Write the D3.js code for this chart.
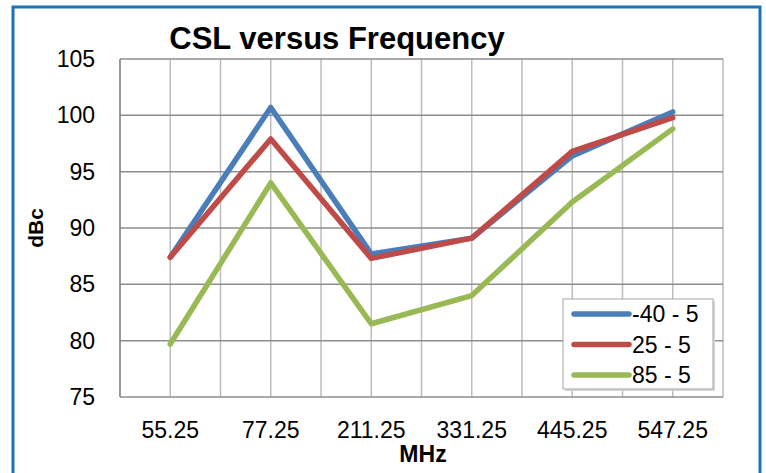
<!DOCTYPE html>
<html>
<head>
<meta charset="utf-8">
<script src="https://cdn.jsdelivr.net/npm/d3@7"></script>
<style>
  body { margin: 0; background: #fff; }
  text { font-family: "Liberation Sans", Arial, sans-serif; fill: #000; }
</style>
</head>
<body>
<div id="chart"></div>
<script>
var W = 766, H = 473

// data
var categories = ["55.25", "77.25", "211.25", "331.25", "445.25", "547.25"]
var seriesNames = ["-40 - 5", "25 - 5", "85 - 5"]
var seriesColors = ["#4a7ebb", "#be4b48", "#98b954"]
var valsMinus40 = [87.4, 100.7, 87.7, 89.1, 96.4, 100.3]
var vals25 = [87.4, 97.9, 87.3, 89.1, 96.8, 99.8]
var vals85 = [79.7, 94.0, 81.5, 84.0, 92.3, 98.8]
var yTicks = [75, 80, 85, 90, 95, 100, 105]

var series = [valsMinus40, vals25, vals85].map(function(v, i){
    return {name: seriesNames[i], color: seriesColors[i], values: v}
})

var plot = {left: 120, right: 723, top: 59, bottom: 397}

var svg = d3.select("#chart").append("svg").attr("width", W).attr("height", H)

// outer blue frame
svg.append("rect").attr("x", 13).attr("y", 7).attr("width", 747).attr("height", H + 10)
    .attr("fill", "#fff").attr("stroke", "#1a72bb").attr("stroke-width", 3)

var x = d3.scaleBand().domain(categories).range([plot.left, plot.right]).paddingInner(0).paddingOuter(0)
var y = d3.scaleLinear().domain([75, 105]).range([plot.bottom, plot.top])

/* vertical gridlines: at band edges and band centres */
var vLines = []
categories.forEach(function(c){
    vLines.push(x(c))
    vLines.push(x(c) + x.bandwidth() / 2)
})
vLines.push(plot.right)
svg.append("g").selectAll("line").data(vLines).enter().append("line")
    .attr("x1", function(d){ return d }).attr("x2", function(d){ return d })
    .attr("y1", plot.top).attr("y2", plot.bottom)
    .attr("stroke", "#bdbdbd").attr("stroke-width", 1.5)

// horizontal gridlines
svg.append("g").selectAll("line").data(yTicks).enter().append("line")
    .attr("x1", plot.left).attr("x2", plot.right)
    .attr("y1", function(d){ return y(d) }).attr("y2", function(d){ return y(d) })
    .attr("stroke", "#8e8e8e").attr("stroke-width", 1.5)

// left axis line
svg.append("line").attr("x1", plot.left).attr("x2", plot.left)
    .attr("y1", plot.top).attr("y2", plot.bottom)
    .attr("stroke", "#868686").attr("stroke-width", 1.5)

// y tick labels
var yAxis = d3.axisLeft(y).tickValues(yTicks).tickSize(0).tickPadding(25)
var gy = svg.append("g").attr("transform", "translate(" + plot.left + ",0)").call(yAxis)
gy.select(".domain").remove()
gy.selectAll("text").style("font-size", "23px").style("font-family", "'Liberation Sans', Arial, sans-serif")

// x tick labels
var xAxis = d3.axisBottom(x).tickSize(0).tickPadding(25)
var gx = svg.append("g").attr("transform", "translate(0," + plot.bottom + ")").call(xAxis)
gx.select(".domain").remove()
gx.selectAll("text").style("font-size", "23px").style("font-family", "'Liberation Sans', Arial, sans-serif")

// lines
var line = d3.line()
    .x(function(d, i){ return x(categories[i]) + x.bandwidth() / 2 })
    .y(function(d){ return y(d) })

svg.append("g").selectAll("path").data(series).enter().append("path")
    .attr("d", function(d){ return line(d.values) })
    .attr("fill", "none")
    .attr("stroke", function(d){ return d.color })
    .attr("stroke-width", 5.5)
    .attr("stroke-linejoin", "round")
    .attr("stroke-linecap", "round")

// title + axis titles
svg.append("text").attr("x", 337).attr("y", 49).attr("text-anchor", "middle")
    .style("font-size", "31px").style("font-weight", "bold").text("CSL versus Frequency")
svg.append("text").attr("x", 423).attr("y", 462).attr("text-anchor", "middle")
    .style("font-size", "23px").style("font-weight", "bold").text("MHz")
svg.append("text").attr("transform", "translate(43,228) rotate(-90)").attr("text-anchor", "middle")
    .style("font-size", "21px").style("font-weight", "bold").text("dBc")

// legend
var legend = svg.append("g").attr("transform", "translate(563,299)")
legend.append("rect").attr("x", 2).attr("y", 2).attr("width", 150).attr("height", 90).attr("fill", "#d9d9d9")
legend.append("rect").attr("width", 150).attr("height", 90).attr("fill", "#fff")
    .attr("stroke", "#a6a6a6").attr("stroke-width", 1)
var items = legend.selectAll(".item").data(series).enter().append("g")
    .attr("class", "item")
    .attr("transform", function(d, i){ return "translate(0," + (15 + i * 30.5) + ")" })
items.append("line").attr("x1", 11).attr("x2", 66).attr("y1", 0).attr("y2", 0)
    .attr("stroke", function(d){ return d.color }).attr("stroke-width", 5.5).attr("stroke-linecap", "round")
items.append("text").attr("x", 69).attr("y", 8).style("font-size", "23px").text(function(d){ return d.name })
</script>
</body>
</html>
